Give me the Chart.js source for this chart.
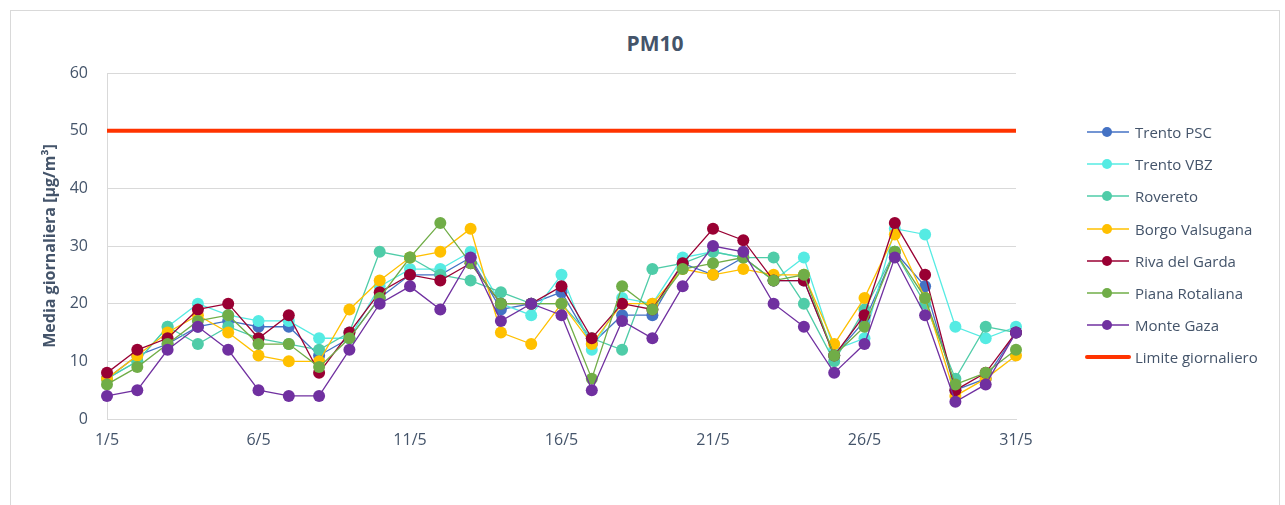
<!DOCTYPE html>
<html>
<head>
<meta charset="utf-8">
<script src="https://cdn.jsdelivr.net/npm/chart.js@4"></script>
<style>
  body { margin: 0; background: #fff; font-family: "Open Sans", sans-serif; }
  #wrap { position: relative; width: 1285px; height: 505px; overflow: hidden; }
  #frame { position: absolute; left: 10px; top: 10px; width: 1270px; height: 520px; border: 1px solid #d9d9d9; box-sizing: border-box; }
  #chart { position: absolute; left: 0; top: 0; }
  #title { position: absolute; left: 555px; width: 200px; top: 29px; text-align: center; font: bold 21px "Open Sans"; color: #44546a; line-height: 28px; }
  #legend { position: absolute; left: 1085px; top: 116px; }
  .item { height: 32.2px; display: flex; align-items: center; font-size: 15px; color: #44546a; }
  .mark { position: relative; width: 46px; height: 12px; margin-right: 4px; }
  .mark .ln { position: absolute; left: 2px; right: 2px; top: 5px; height: 2px; }
  .mark .dot { position: absolute; left: 17px; top: 1px; width: 10px; height: 10px; border-radius: 50%; }
</style>
</head>
<body>
<div id="wrap">
  <div id="frame"></div>
  <div id="title">PM10</div>
  <canvas id="chart" width="1285" height="505"></canvas>
  <div id="legend"></div>
</div>
<script>
const days = ['1/5','2/5','3/5','4/5','5/5','6/5','7/5','8/5','9/5','10/5','11/5','12/5','13/5','14/5','15/5','16/5',
              '17/5','18/5','19/5','20/5','21/5','22/5','23/5','24/5','25/5','26/5','27/5','28/5','29/5','30/5','31/5'];

const trentoPSC   = [7, 11, 13, 16, 17, 16, 16, 11, 14, 21, 25, 25, 28, 19, 20, 22, 13, 18, 18, 27, 25, 28, 24, 24, 11, 17, 29, 23, 5, 7, 15];
const trentoVBZ   = [7, 10, 16, 20, 18, 17, 17, 14, 14, 23, 26, 26, 29, 20, 18, 25, 12, 21, 20, 28, 29, 28, 24, 28, 12, 14, 33, 32, 16, 14, 16];
const rovereto    = [7, 10, 16, 13, 16, 14, 13, 12, 15, 29, 28, 25, 24, 22, 20, 20, 14, 12, 26, 27, 29, 28, 28, 20, 10, 19, 29, 20, 7, 16, 15];
const borgo       = [7, 11, 15, 18, 15, 11, 10, 10, 19, 24, 28, 29, 33, 15, 13, 20, 13, 20, 20, 26, 25, 26, 25, 25, 13, 21, 32, 21, 4, 7, 11];
const riva        = [8, 12, 14, 19, 20, 14, 18, 8, 15, 22, 25, 24, 27, 20, 20, 23, 14, 20, 19, 27, 33, 31, 24, 24, 11, 18, 34, 25, 5, 8, 15];
const piana       = [6, 9, 13, 17, 18, 13, 13, 9, 14, 21, 28, 34, 27, 20, 20, 20, 7, 23, 19, 26, 27, 28, 24, 25, 11, 16, 29, 21, 6, 8, 12];
const monteGaza   = [4, 5, 12, 16, 12, 5, 4, 4, 12, 20, 23, 19, 28, 17, 20, 18, 5, 17, 14, 23, 30, 29, 20, 16, 8, 13, 28, 18, 3, 6, 15];
const limite      = days.map(() => 50);

const stations = [
  { name: 'Trento PSC', data: trentoPSC, color: '#4472c4' },
  { name: 'Trento VBZ', data: trentoVBZ, color: '#55ebe3' },
  { name: 'Rovereto', data: rovereto, color: '#4fcca8' },
  { name: 'Borgo Valsugana', data: borgo, color: '#ffc000' },
  { name: 'Riva del Garda', data: riva, color: '#990033' },
  { name: 'Piana Rotaliana', data: piana, color: '#70ad47' },
  { name: 'Monte Gaza', data: monteGaza, color: '#7030a0' }
];
const limitColor = '#ff3300';

const datasets = stations.map((s, i) => ({
  label: s.name,
  data: s.data,
  borderColor: s.color,
  backgroundColor: s.color,
  borderWidth: 1.3,
  pointRadius: 6,
  pointBorderWidth: 0,
  pointHoverRadius: 6,
  tension: 0,
  order: 20 - i
}));
datasets.push({
  label: 'Limite giornaliero',
  data: limite,
  borderColor: limitColor,
  backgroundColor: limitColor,
  borderWidth: 4,
  pointRadius: 0,
  order: 0
});

new Chart(document.getElementById('chart'), {
  type: 'line',
  data: { labels: days, datasets: datasets },
  options: {
    responsive: false,
    animation: false,
    layout: { padding: { left: 10, right: 269, top: 73, bottom: 0 } },
    plugins: { legend: { display: false }, title: { display: false }, tooltip: { enabled: false } },
    scales: {
      x: {
        grid: { display: false, drawTicks: false },
        border: { display: true, color: '#d9d9d9', width: 1 },
        ticks: {
          autoSkip: false,
          maxRotation: 0,
          padding: 12,
          color: '#44546a',
          font: { family: 'Open Sans', size: 16 },
          callback: (v, i) => (i % 5 === 0 ? days[i] : '')
        },
        afterFit: (scale) => { scale.height = 86; scale.paddingLeft = 0; scale.paddingRight = 0; }
      },
      y: {
        min: 0,
        max: 60,
        grid: { color: '#d9d9d9', drawTicks: false },
        border: { display: true, color: '#d9d9d9' },
        ticks: { stepSize: 10, padding: 19, color: '#44546a', font: { family: 'Open Sans', size: 16 } },
        title: {
          display: true,
          text: 'Media giornaliera [µg/m³]',
          color: '#44546a',
          font: { family: 'Open Sans', size: 16, weight: 'bold' },
          padding: { top: 31, bottom: 0 }
        },
        afterFit: (scale) => { scale.width = 97; scale.paddingTop = 0; scale.paddingBottom = 0; }
      }
    }
  }
});

// legend
const legend = document.getElementById('legend');
stations.forEach(s => {
  legend.insertAdjacentHTML('beforeend',
    `<div class="item"><div class="mark"><div class="ln" style="background:${s.color};opacity:.75"></div>` +
    `<div class="dot" style="background:${s.color}"></div></div>${s.name}</div>`);
});
legend.insertAdjacentHTML('beforeend',
  `<div class="item"><div class="mark"><div class="ln" style="background:${limitColor};top:4px;height:4px;left:0;right:0;border-radius:2px"></div></div>Limite giornaliero</div>`);
</script>
</body>
</html>
